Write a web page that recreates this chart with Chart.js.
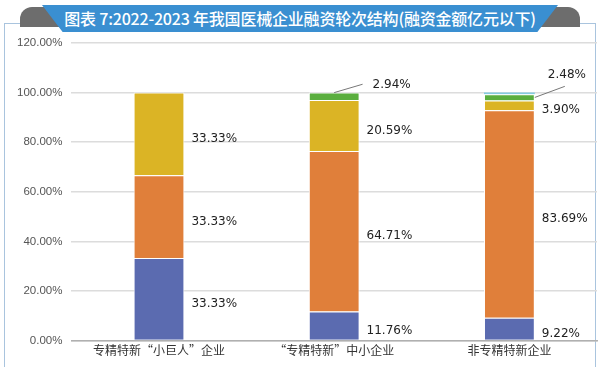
<!DOCTYPE html>
<html>
<head>
<meta charset="utf-8">
<script src="https://cdn.jsdelivr.net/npm/chart.js@4/dist/chart.umd.min.js"></script>
<style>
  html, body { margin: 0; padding: 0; background: #fff; }
  #wrap { position: relative; width: 600px; height: 367px; overflow: hidden; font-family: "Noto Sans CJK SC", sans-serif; }
  #frame { position: absolute; left: 4px; top: 23px; width: 590px; height: 350px; border: 1px solid #a9c4de; }
  .tab { position: absolute; top: 7px; width: 40px; height: 20px; background: #6d6d6d; border-radius: 12px 12px 0 0; }
  #tabL { left: 20px; }
  #tabR { left: 540px; }
  #banner { position: absolute; left: 42px; top: 5px; width: 516px; height: 27px; background: #3a8fd1;
            clip-path: polygon(0 0, 100% 0, 96% 100%, 4% 100%); }
  #title { position: absolute; left: 0; top: 5px; width: 600px; height: 27px; line-height: 27px; text-align: center;
           color: #fff; font-size: 16px; font-weight: 500; letter-spacing: -0.2px; }
  #c { position: absolute; left: 0; top: 0; }
</style>
</head>
<body>
<div id="wrap">
  <div id="frame"></div>
  <div class="tab" id="tabL"></div>
  <div class="tab" id="tabR"></div>
  <div id="banner"></div>
  <div id="title">图表 7:2022-2023 年我国医械企业融资轮次结构(融资金额亿元以下)</div>
  <canvas id="c" width="600" height="367"></canvas>
</div>
<script>
// 企业类别
const categories = ['专精特新“小巨人”企业', '“专精特新”中小企业', '非专精特新企业'];
// 各轮次占比 (%)
const series1 = [33.33, 11.76, 9.22];
const series2 = [33.33, 64.71, 83.69];
const series3 = [33.34, 20.59, 3.90];
const series4 = [0, 2.94, 2.48];
const series5 = [0, 0, 0.71];
const seriesColors = ['#5b6bb0', '#e07f3a', '#dbb425', '#5aae3e', '#84cbe0'];
const yTicks = [0, 20, 40, 60, 80, 100, 120];

// 柱右侧数值标签
const labelPlugin = {
  id: 'barLabels',
  afterDatasetsDraw(chart) {
    const ctx = chart.ctx;
    ctx.save();
    ctx.font = '12px "DejaVu Sans", sans-serif';
    ctx.fillStyle = '#222';
    ctx.textBaseline = 'middle';
    ctx.textAlign = 'left';
    for (let i = 0; i < categories.length; i++) {
      let prevY = null;
      chart.data.datasets.forEach((ds, di) => {
        if (di === 4) return;
        const v = ds.data[i];
        if (!v) return;
        const bar = chart.getDatasetMeta(di).data[i];
        const right = bar.x + bar.width / 2;
        const cy = (bar.y + bar.base) / 2;
        const text = (di === 2 && i === 0 ? 33.33 : v).toFixed(2) + '%';
        if (v < 3) {
          // 小数值：引导线 + 上方标签
          ctx.strokeStyle = '#777';
          ctx.lineWidth = 1;
          ctx.beginPath();
          if (i === 1) {
            ctx.moveTo(bar.x, bar.y);
            ctx.lineTo(right + 3, cy - 12);
            ctx.stroke();
            ctx.fillText(text, right + 13, cy - 11);
          } else {
            const ey = prevY - 19;
            ctx.moveTo(right, cy);
            ctx.lineTo(right + 30, ey);
            ctx.stroke();
            ctx.fillText(text, right + 13, ey - 11);
          }
        } else {
          ctx.fillText(text, right + 7, cy + 5);
          prevY = cy;
        }
      });
    }
    ctx.restore();
  }
};

const allSeries = [series1, series2, series3, series4, series5];
new Chart(document.getElementById('c'), {
  type: 'bar',
  data: {
    labels: categories,
    datasets: allSeries.map((d, k) => ({
      data: d,
      backgroundColor: seriesColors[k],
      borderColor: '#ffffff',
      borderWidth: k === 4 ? 0 : 1,
      categoryPercentage: 1,
      barPercentage: 0.29
    }))
  },
  options: {
    responsive: false,
    animation: false,
    layout: { padding: { left: 8, right: 3, top: 43, bottom: 6 } },
    plugins: { legend: { display: false }, tooltip: { enabled: false }, title: { display: false } },
    scales: {
      x: {
        stacked: true,
        grid: { display: false, drawTicks: false },
        border: { display: true, color: '#b0b0b0', width: 1.5 },
        ticks: { color: '#333', font: { size: 12, family: '"Noto Sans CJK SC"' }, padding: 3, maxRotation: 0 }
      },
      y: {
        stacked: true,
        min: 0,
        max: 120,
        afterBuildTicks(axis) { axis.ticks = yTicks.map(v => ({ value: v })); },
        grid: { color: '#dcdcdc', lineWidth: 1.5, drawTicks: false },
        border: { display: false },
        ticks: {
          color: '#555',
          padding: 9,
          font: { size: 11.5, family: '"Liberation Sans", sans-serif' },
          callback: v => v.toFixed(2) + '%'
        }
      }
    }
  },
  plugins: [labelPlugin]
});
</script>
</body>
</html>
